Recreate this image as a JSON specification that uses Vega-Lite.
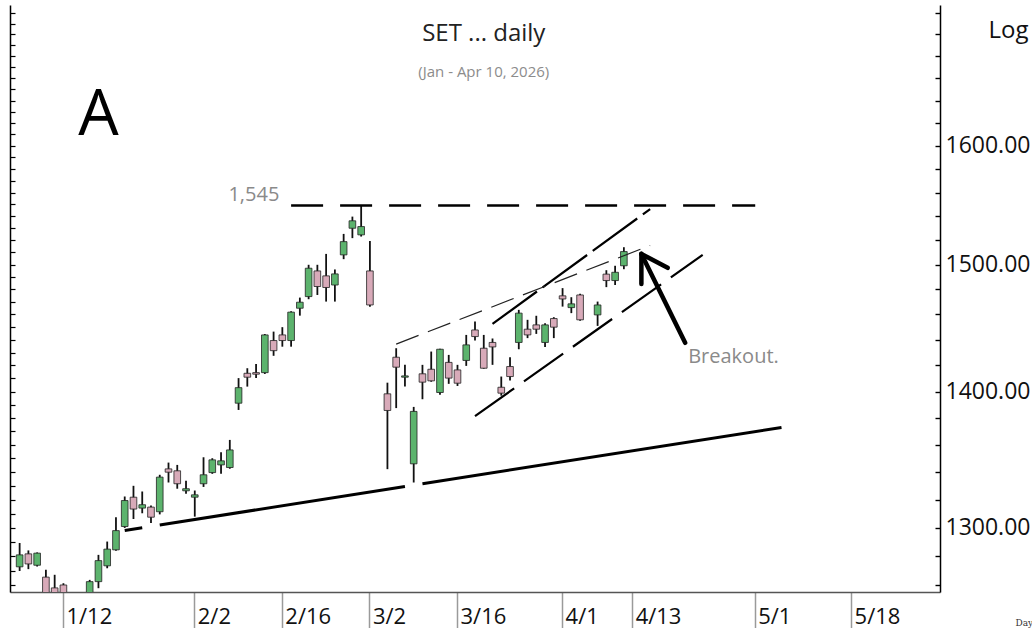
{
  "$schema": "https://vega.github.io/schema/vega-lite/v6.json",
  "width": 930,
  "height": 587,
  "autosize": "none",
  "padding": {"left": 10, "top": 5, "right": 92, "bottom": 36},
  "background": "white",
  "config": {"view": {"stroke": null}},
  "datasets": {
    "candles": [
      {"date": "2026-01-05", "open": 1272.8, "high": 1289.4, "low": 1269.9, "close": 1281.1},
      {"date": "2026-01-06", "open": 1281.8, "high": 1284.2, "low": 1271.2, "close": 1274.8},
      {"date": "2026-01-07", "open": 1273.9, "high": 1282.8, "low": 1273.0, "close": 1282.3},
      {"date": "2026-01-08", "open": 1265.7, "high": 1270.7, "low": 1245.0, "close": 1250.0},
      {"date": "2026-01-09", "open": 1258.3, "high": 1267.3, "low": 1245.0, "close": 1250.0},
      {"date": "2026-01-12", "open": 1260.3, "high": 1261.5, "low": 1240.0, "close": 1248.0},
      {"date": "2026-01-13", "open": 1248.0, "high": 1253.0, "low": 1238.0, "close": 1242.0},
      {"date": "2026-01-14", "open": 1243.0, "high": 1250.0, "low": 1236.0, "close": 1247.0},
      {"date": "2026-01-15", "open": 1250.0, "high": 1263.8, "low": 1246.0, "close": 1262.6},
      {"date": "2026-01-16", "open": 1262.6, "high": 1281.1, "low": 1258.1, "close": 1277.1},
      {"date": "2026-01-19", "open": 1273.5, "high": 1290.4, "low": 1271.8, "close": 1285.1},
      {"date": "2026-01-20", "open": 1284.6, "high": 1307.6, "low": 1284.0, "close": 1298.1},
      {"date": "2026-01-21", "open": 1301.0, "high": 1322.4, "low": 1300.0, "close": 1319.5},
      {"date": "2026-01-22", "open": 1321.9, "high": 1330.1, "low": 1306.3, "close": 1313.4},
      {"date": "2026-01-23", "open": 1314.1, "high": 1326.0, "low": 1310.4, "close": 1316.5},
      {"date": "2026-01-26", "open": 1314.8, "high": 1316.0, "low": 1303.4, "close": 1307.6},
      {"date": "2026-01-27", "open": 1311.5, "high": 1338.1, "low": 1309.6, "close": 1336.4},
      {"date": "2026-01-28", "open": 1342.4, "high": 1347.0, "low": 1332.5, "close": 1340.0},
      {"date": "2026-01-29", "open": 1341.0, "high": 1345.3, "low": 1328.0, "close": 1331.6},
      {"date": "2026-01-30", "open": 1326.5, "high": 1333.7, "low": 1324.3, "close": 1328.0},
      {"date": "2026-02-02", "open": 1321.9, "high": 1326.7, "low": 1308.0, "close": 1323.6},
      {"date": "2026-02-03", "open": 1331.6, "high": 1350.9, "low": 1329.3, "close": 1338.1},
      {"date": "2026-02-04", "open": 1339.7, "high": 1350.2, "low": 1338.8, "close": 1349.0},
      {"date": "2026-02-05", "open": 1345.3, "high": 1354.5, "low": 1338.8, "close": 1348.3},
      {"date": "2026-02-06", "open": 1343.4, "high": 1363.7, "low": 1342.5, "close": 1356.3},
      {"date": "2026-02-09", "open": 1391.2, "high": 1410.3, "low": 1386.1, "close": 1403.0},
      {"date": "2026-02-10", "open": 1414.0, "high": 1417.9, "low": 1403.8, "close": 1411.0},
      {"date": "2026-02-11", "open": 1414.5, "high": 1421.2, "low": 1410.3, "close": 1413.3},
      {"date": "2026-02-12", "open": 1414.5, "high": 1444.5, "low": 1413.5, "close": 1443.8},
      {"date": "2026-02-13", "open": 1439.4, "high": 1446.4, "low": 1427.5, "close": 1431.5},
      {"date": "2026-02-16", "open": 1443.8, "high": 1449.9, "low": 1434.6, "close": 1439.4},
      {"date": "2026-02-17", "open": 1439.4, "high": 1462.5, "low": 1434.6, "close": 1461.8},
      {"date": "2026-02-18", "open": 1464.9, "high": 1473.4, "low": 1459.0, "close": 1469.7},
      {"date": "2026-02-19", "open": 1474.2, "high": 1499.9, "low": 1472.1, "close": 1497.1},
      {"date": "2026-02-20", "open": 1494.9, "high": 1499.9, "low": 1475.5, "close": 1482.3},
      {"date": "2026-02-23", "open": 1490.9, "high": 1508.8, "low": 1470.2, "close": 1481.5},
      {"date": "2026-02-24", "open": 1483.5, "high": 1496.1, "low": 1470.2, "close": 1492.5},
      {"date": "2026-02-25", "open": 1508.0, "high": 1525.3, "low": 1504.5, "close": 1518.9},
      {"date": "2026-02-26", "open": 1530.0, "high": 1539.7, "low": 1521.8, "close": 1536.2},
      {"date": "2026-02-27", "open": 1524.5, "high": 1549.0, "low": 1523.1, "close": 1531.4},
      {"date": "2026-03-02", "open": 1494.9, "high": 1519.5, "low": 1466.0, "close": 1467.5},
      {"date": "2026-03-04", "open": 1398.3, "high": 1406.8, "low": 1342.2, "close": 1385.7},
      {"date": "2026-03-05", "open": 1426.4, "high": 1433.4, "low": 1387.5, "close": 1418.7},
      {"date": "2026-03-06", "open": 1411.0, "high": 1420.5, "low": 1403.8, "close": 1412.0},
      {"date": "2026-03-09", "open": 1346.1, "high": 1388.4, "low": 1332.5, "close": 1385.0},
      {"date": "2026-03-10", "open": 1413.6, "high": 1420.5, "low": 1394.2, "close": 1407.2},
      {"date": "2026-03-11", "open": 1417.1, "high": 1430.8, "low": 1407.5, "close": 1408.2},
      {"date": "2026-03-12", "open": 1399.3, "high": 1433.0, "low": 1397.6, "close": 1432.6},
      {"date": "2026-03-13", "open": 1422.4, "high": 1428.2, "low": 1405.9, "close": 1410.3},
      {"date": "2026-03-16", "open": 1416.6, "high": 1420.5, "low": 1404.3, "close": 1406.4},
      {"date": "2026-03-17", "open": 1423.9, "high": 1443.8, "low": 1419.7, "close": 1436.0},
      {"date": "2026-03-18", "open": 1447.7, "high": 1454.3, "low": 1439.4, "close": 1442.5},
      {"date": "2026-03-19", "open": 1433.4, "high": 1443.8, "low": 1417.5, "close": 1417.9},
      {"date": "2026-03-20", "open": 1437.9, "high": 1441.0, "low": 1420.5, "close": 1434.4},
      {"date": "2026-03-23", "open": 1403.3, "high": 1411.5, "low": 1396.9, "close": 1398.8},
      {"date": "2026-03-24", "open": 1419.2, "high": 1426.4, "low": 1408.4, "close": 1411.5},
      {"date": "2026-03-25", "open": 1437.9, "high": 1463.6, "low": 1432.6, "close": 1461.0},
      {"date": "2026-03-26", "open": 1448.3, "high": 1455.7, "low": 1441.3, "close": 1443.8},
      {"date": "2026-03-27", "open": 1451.7, "high": 1458.9, "low": 1444.6, "close": 1448.3},
      {"date": "2026-03-30", "open": 1437.9, "high": 1453.0, "low": 1434.4, "close": 1451.7},
      {"date": "2026-03-31", "open": 1456.7, "high": 1457.8, "low": 1441.3, "close": 1449.9},
      {"date": "2026-04-01", "open": 1474.8, "high": 1481.0, "low": 1466.2, "close": 1472.3},
      {"date": "2026-04-02", "open": 1465.4, "high": 1473.7, "low": 1461.0, "close": 1468.4},
      {"date": "2026-04-03", "open": 1475.5, "high": 1476.5, "low": 1455.0, "close": 1455.7},
      {"date": "2026-04-07", "open": 1459.6, "high": 1470.2, "low": 1450.9, "close": 1467.5},
      {"date": "2026-04-08", "open": 1492.3, "high": 1495.5, "low": 1481.8, "close": 1487.1},
      {"date": "2026-04-09", "open": 1487.1, "high": 1499.1, "low": 1483.5, "close": 1493.8},
      {"date": "2026-04-10", "open": 1499.1, "high": 1514.3, "low": 1496.3, "close": 1510.7}
    ],
    "resistance": [
      {"date": "2026-02-17", "price": 1549},
      {"date": "2026-05-01", "price": 1549}
    ],
    "support": [
      {"seg": "a", "date": "2026-01-21", "price": 1298.2},
      {"seg": "a", "date": "2026-01-23", "price": 1300.1},
      {"seg": "b", "date": "2026-01-27", "price": 1302.1},
      {"seg": "b", "date": "2026-03-06", "price": 1329.6},
      {"seg": "c", "date": "2026-03-10", "price": 1331.6},
      {"seg": "c", "date": "2026-05-06", "price": 1372.9}
    ],
    "channelLow": [
      {"date": "2026-03-18", "price": 1381.5},
      {"date": "2026-04-23", "price": 1508.0}
    ],
    "channelUp": [
      {"date": "2026-03-20", "price": 1452.5},
      {"date": "2026-04-15", "price": 1546.0}
    ],
    "thinLine": [
      {"date": "2026-03-05", "price": 1436.6},
      {"date": "2026-04-15", "price": 1515.7}
    ],
    "arrow": [
      {"part": "shaft", "date": "2026-04-14", "price": 1508.8},
      {"part": "shaft", "date": "2026-04-21", "price": 1437.6},
      {"part": "wing1", "date": "2026-04-14", "price": 1508.8},
      {"part": "wing1", "date": "2026-04-17", "price": 1497.4},
      {"part": "wing2", "date": "2026-04-14", "price": 1508.8},
      {"part": "wing2", "date": "2026-04-14", "price": 1484.3}
    ]
  },
  "encoding": {
    "x": {
      "field": "date",
      "type": "ordinal",
      "title": "Day",
      "scale": {
        "type": "band",
        "paddingInner": 0,
        "paddingOuter": 0.6,
        "domain": [
          "2026-01-05","2026-01-06","2026-01-07","2026-01-08","2026-01-09",
          "2026-01-12","2026-01-13","2026-01-14","2026-01-15","2026-01-16",
          "2026-01-19","2026-01-20","2026-01-21","2026-01-22","2026-01-23",
          "2026-01-26","2026-01-27","2026-01-28","2026-01-29","2026-01-30",
          "2026-02-02","2026-02-03","2026-02-04","2026-02-05","2026-02-06",
          "2026-02-09","2026-02-10","2026-02-11","2026-02-12","2026-02-13",
          "2026-02-16","2026-02-17","2026-02-18","2026-02-19","2026-02-20",
          "2026-02-23","2026-02-24","2026-02-25","2026-02-26","2026-02-27",
          "2026-03-02","2026-03-03","2026-03-04","2026-03-05","2026-03-06",
          "2026-03-09","2026-03-10","2026-03-11","2026-03-12","2026-03-13",
          "2026-03-16","2026-03-17","2026-03-18","2026-03-19","2026-03-20",
          "2026-03-23","2026-03-24","2026-03-25","2026-03-26","2026-03-27",
          "2026-03-30","2026-03-31","2026-04-01","2026-04-02","2026-04-03",
          "2026-04-06","2026-04-07","2026-04-08","2026-04-09","2026-04-10",
          "2026-04-13","2026-04-14","2026-04-15","2026-04-16","2026-04-17",
          "2026-04-20","2026-04-21","2026-04-22","2026-04-23","2026-04-24",
          "2026-04-27","2026-04-28","2026-04-29","2026-04-30","2026-05-01",
          "2026-05-04","2026-05-05","2026-05-06","2026-05-07","2026-05-08",
          "2026-05-11","2026-05-12","2026-05-13","2026-05-14","2026-05-15",
          "2026-05-18","2026-05-19","2026-05-20","2026-05-21","2026-05-22",
          "2026-05-25","2026-05-26","2026-05-27","2026-05-28","2026-05-29"
        ]
      },
      "axis": {
        "values": ["2026-01-12","2026-02-02","2026-02-16","2026-03-02","2026-03-16","2026-04-01","2026-04-13","2026-05-01","2026-05-18"],
        "labelExpr": "toNumber(substring(datum.value,5,7)) + '/' + toNumber(substring(datum.value,8,10))",
        "bandPosition": 0.5,
        "grid": false,
        "tickSize": 36,
        "tickColor": "#9a9a9a",
        "tickWidth": 1.5,
        "domainColor": "#555555",
        "domainWidth": 1.5,
        "labelAngle": 0,
        "labelAlign": "left",
        "labelBaseline": "alphabetic",
        "labelOffset": 3,
        "labelPadding": -5,
        "labelFont": "Open Sans",
        "labelFontSize": 22,
        "labelColor": "#111111",
        "labelOverlap": false,
        "labelBound": false,
        "labelFlush": false,
        "titleFont": "DejaVu Serif",
        "titleFontSize": 9,
        "titleFontWeight": "normal",
        "titleColor": "#333333",
        "titleAlign": "left",
        "titleBaseline": "middle",
        "titleAnchor": "start",
        "titleX": 1005,
        "titleY": 30
      }
    }
  },
  "layer": [
    {
      "data": {"name": "candles"},
      "mark": {"type": "rule", "color": "#111111", "strokeWidth": 1.8, "clip": true},
      "encoding": {
        "y": {
          "field": "low", "type": "quantitative",
          "scale": {"type": "log", "domain": [1255.5, 1727.4], "nice": false, "zero": false},
          "axis": {
            "orient": "right",
            "values": [1260,1280,1300,1320,1340,1360,1380,1400,1420,1440,1460,1480,1500,1520,1540,1560,1580,1600,1620,1640,1660,1680,1700,1720],
            "labelExpr": "(datum.value % 100 === 0 && datum.value < 1650) ? format(datum.value, '.2f') : ''",
            "grid": false,
            "tickSize": -5,
            "tickColor": "#000000",
            "tickWidth": 1.4,
            "domainColor": "#000000",
            "domainWidth": 1.5,
            "labelPadding": 10,
            "labelAlign": "left",
            "labelBaseline": "middle",
            "labelFont": "Open Sans",
            "labelFontSize": 23,
            "labelColor": "#111111",
            "labelOverlap": false,
            "labelBound": false,
            "labelFlush": false,
            "title": "Log",
            "titleAngle": 0,
            "titleX": 88,
            "titleY": 25,
            "titleAlign": "right",
            "titleBaseline": "middle",
            "titleFont": "Open Sans",
            "titleFontSize": 24,
            "titleFontWeight": "normal",
            "titleColor": "#111111"
          }
        },
        "y2": {"field": "high"}
      }
    },
    {
      "data": {"name": "candles"},
      "mark": {"type": "bar", "width": {"band": 0.76}, "stroke": "#222222", "strokeWidth": 0.8, "clip": true},
      "encoding": {
        "y": {
          "field": "open", "type": "quantitative",
          "scale": {"type": "log", "domain": [1255.5, 1727.4], "nice": false, "zero": false},
          "axis": {
            "orient": "left",
            "values": [1260,1270,1280,1290,1300,1310,1320,1330,1340,1350,1360,1370,1380,1390,1400,1410,1420,1430,1440,1450,1460,1470,1480,1490,1500,1510,1520,1530,1540,1550,1560,1570,1580,1590,1600,1610,1620,1630,1640,1650,1660,1670,1680,1690,1700,1710,1720],
            "labels": false,
            "grid": false,
            "tickSize": -5,
            "tickColor": "#000000",
            "tickWidth": 1.2,
            "domainColor": "#000000",
            "domainWidth": 1.5,
            "title": null
          }
        },
        "y2": {"field": "close"},
        "color": {
          "condition": {"test": "datum.close >= datum.open", "value": "#5cb36d"},
          "value": "#d8aab9"
        }
      }
    },
    {
      "data": {"name": "resistance"},
      "mark": {"type": "line", "color": "#000000", "strokeWidth": 2.6, "strokeDash": [32, 17]},
      "encoding": {
        "y": {"field": "price", "type": "quantitative", "scale": {"type": "log", "domain": [1255.5, 1727.4], "nice": false, "zero": false}, "axis": null}
      }
    },
    {
      "data": {"name": "support"},
      "mark": {"type": "line", "color": "#000000", "strokeWidth": 3},
      "encoding": {
        "y": {"field": "price", "type": "quantitative", "scale": {"type": "log", "domain": [1255.5, 1727.4], "nice": false, "zero": false}, "axis": null},
        "detail": {"field": "seg"}
      }
    },
    {
      "data": {"name": "channelLow"},
      "mark": {"type": "line", "color": "#000000", "strokeWidth": 2.2, "strokeDash": [48, 12]},
      "encoding": {
        "y": {"field": "price", "type": "quantitative", "scale": {"type": "log", "domain": [1255.5, 1727.4], "nice": false, "zero": false}, "axis": null}
      }
    },
    {
      "data": {"name": "channelUp"},
      "mark": {"type": "line", "color": "#000000", "strokeWidth": 2.2, "strokeDash": [55, 7]},
      "encoding": {
        "y": {"field": "price", "type": "quantitative", "scale": {"type": "log", "domain": [1255.5, 1727.4], "nice": false, "zero": false}, "axis": null}
      }
    },
    {
      "data": {"name": "thinLine"},
      "mark": {"type": "line", "color": "#222222", "strokeWidth": 1.2, "strokeDash": [24, 10]},
      "encoding": {
        "y": {"field": "price", "type": "quantitative", "scale": {"type": "log", "domain": [1255.5, 1727.4], "nice": false, "zero": false}, "axis": null}
      }
    },
    {
      "data": {"name": "arrow"},
      "mark": {"type": "line", "color": "#000000", "strokeWidth": 4.5, "strokeCap": "round"},
      "encoding": {
        "y": {"field": "price", "type": "quantitative", "scale": {"type": "log", "domain": [1255.5, 1727.4], "nice": false, "zero": false}, "axis": null},
        "detail": {"field": "part"}
      }
    },
    {
      "data": {"values": [{"date": "2026-03-19", "price": 1693.9, "label": "SET ... daily"}]},
      "mark": {"type": "text", "font": "Open Sans", "fontSize": 24, "color": "#222222", "align": "center", "baseline": "alphabetic"},
      "encoding": {
        "y": {"field": "price", "type": "quantitative", "scale": {"type": "log", "domain": [1255.5, 1727.4], "nice": false, "zero": false}, "axis": null},
        "text": {"field": "label"}
      }
    },
    {
      "data": {"values": [{"date": "2026-03-19", "price": 1661.1, "label": "(Jan - Apr 10, 2026)"}]},
      "mark": {"type": "text", "font": "Open Sans", "fontSize": 15, "color": "#8c8c8c", "align": "center", "baseline": "alphabetic"},
      "encoding": {
        "y": {"field": "price", "type": "quantitative", "scale": {"type": "log", "domain": [1255.5, 1727.4], "nice": false, "zero": false}, "axis": null},
        "text": {"field": "label"}
      }
    },
    {
      "data": {"values": [{"date": "2026-01-16", "price": 1609.6, "label": "A"}]},
      "mark": {"type": "text", "font": "Open Sans", "fontSize": 64, "color": "#000000", "align": "center", "baseline": "alphabetic"},
      "encoding": {
        "y": {"field": "price", "type": "quantitative", "scale": {"type": "log", "domain": [1255.5, 1727.4], "nice": false, "zero": false}, "axis": null},
        "text": {"field": "label"}
      }
    },
    {
      "data": {"values": [{"date": "2026-02-16", "price": 1558, "label": "1,545"}]},
      "mark": {"type": "text", "font": "Open Sans", "fontSize": 20, "color": "#8a8a8a", "align": "right", "baseline": "middle", "dx": -3},
      "encoding": {
        "y": {"field": "price", "type": "quantitative", "scale": {"type": "log", "domain": [1255.5, 1727.4], "nice": false, "zero": false}, "axis": null},
        "text": {"field": "label"}
      }
    },
    {
      "data": {"values": [{"date": "2026-04-21", "price": 1426.7, "label": "Breakout."}]},
      "mark": {"type": "text", "font": "Open Sans", "fontSize": 20, "color": "#8a8a8a", "align": "left", "baseline": "middle", "dx": 3},
      "encoding": {
        "y": {"field": "price", "type": "quantitative", "scale": {"type": "log", "domain": [1255.5, 1727.4], "nice": false, "zero": false}, "axis": null},
        "text": {"field": "label"}
      }
    }
  ],
  "resolve": {"axis": {"y": "independent"}}
}
